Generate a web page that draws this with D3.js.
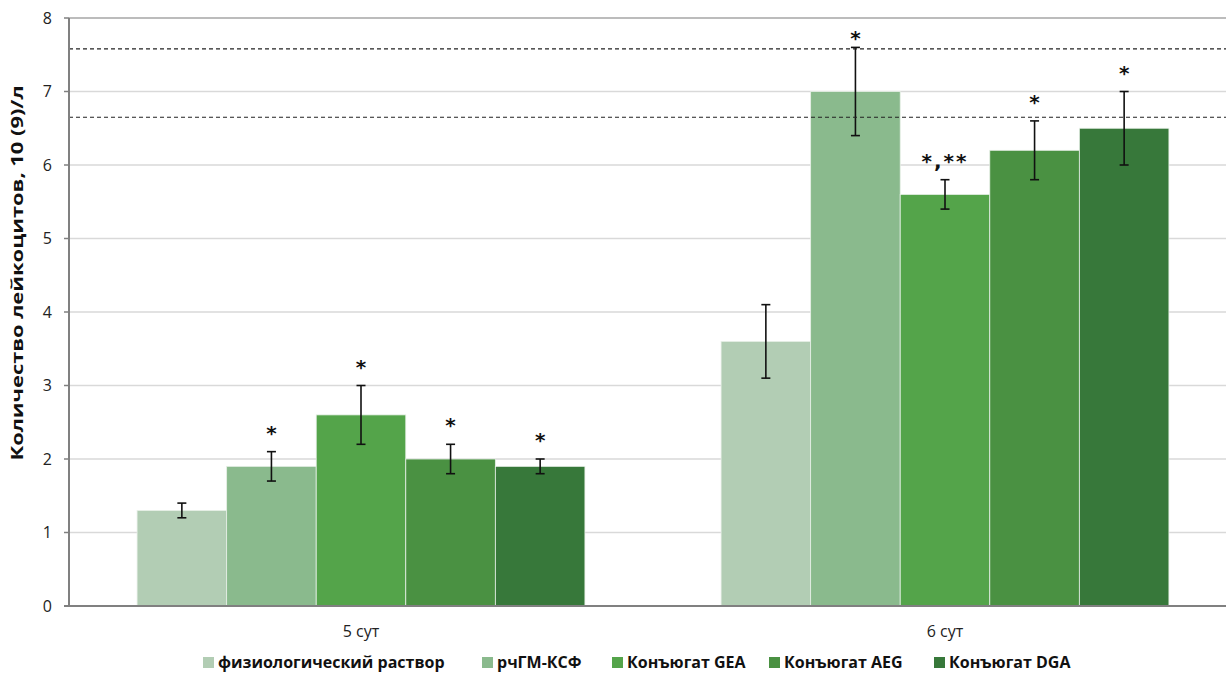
<!DOCTYPE html>
<html>
<head>
<meta charset="utf-8">
<script src="https://cdn.jsdelivr.net/npm/d3@7"></script>
<style>
  html, body { margin: 0; padding: 0; background: #fff; }
  svg { display: block; font-family: "Open Sans", "DejaVu Sans", sans-serif; }
</style>
</head>
<body>
<svg id="chart" width="1226" height="684"></svg>
<script>
// Leukocyte counts by day and treatment group
const categories = ["5 сут", "6 сут"];
const seriesNames = ["физиологический раствор", "рчГМ-КСФ", "Конъюгат GEA", "Конъюгат AEG", "Конъюгат DGA"];
const seriesColors = ["#b2cdb4", "#8aba8d", "#54a44a", "#4a9142", "#37783a"];
const means5 = [1.3, 1.9, 2.6, 2.0, 1.9];
const means6 = [3.6, 7.0, 5.6, 6.2, 6.5];
const errors5 = [0.1, 0.2, 0.4, 0.2, 0.1];
const errors6 = [0.5, 0.6, 0.2, 0.4, 0.5];
const marks5 = ["", "*", "*", "*", "*"];
const marks6 = ["", "*", "*,**", "*", "*"];
const yTicks = [0, 1, 2, 3, 4, 5, 6, 7, 8];
const referenceLines = [7.58, 6.65];

const means = [means5, means6];
const errors = [errors5, errors6];
const marks = [marks5, marks6];

const svg = d3.select("#chart");
const plotLeft = 69, plotTop = 18, plotBottom = 606, plotRightEdge = 1237;

const y = d3.scaleLinear().domain([0, 8]).range([plotBottom, plotTop]);
const x0 = d3.scaleBand().domain(categories).range([plotLeft, plotRightEdge]).paddingInner(0).paddingOuter(0);
const x1 = d3.scaleBand().domain(seriesNames).range([0, x0.bandwidth()]).paddingInner(0).paddingOuter(0.76);

// horizontal gridlines
svg.append("g").selectAll("line")
  .data(yTicks.filter(t => t > 0))
  .join("line")
  .attr("x1", plotLeft).attr("x2", 1226)
  .attr("y1", d => y(d)).attr("y2", d => y(d))
  .attr("stroke", d => d === 8 ? "#a6a6a6" : "#d9d9d9")
  .attr("stroke-width", 1.5);

// bars
const groups = svg.append("g").selectAll("g")
  .data(categories)
  .join("g")
  .attr("transform", d => `translate(${x0(d)},0)`);

groups.selectAll("rect")
  .data((c, ci) => seriesNames.map((s, si) => ({ s, si, v: means[ci][si] })))
  .join("rect")
  .attr("x", d => x1(d.s))
  .attr("width", x1.bandwidth())
  .attr("y", d => y(d.v))
  .attr("height", d => plotBottom - y(d.v))
  .attr("fill", d => seriesColors[d.si])
  .attr("stroke", "#e8f0e8")
  .attr("stroke-width", 0.8);

// dashed reference lines
svg.append("g").selectAll("line")
  .data(referenceLines)
  .join("line")
  .attr("x1", plotLeft).attr("x2", 1226)
  .attr("y1", d => y(d)).attr("y2", d => y(d))
  .attr("stroke", "#222")
  .attr("stroke-width", 1.2)
  .attr("stroke-dasharray", "4,3");

// error bars with significance marks
groups.each(function(c, ci) {
  const g = d3.select(this);
  seriesNames.forEach((s, si) => {
    const cx = x1(s) + x1.bandwidth() / 2;
    const hi = means[ci][si] + errors[ci][si];
    const lo = means[ci][si] - errors[ci][si];
    const eb = g.append("g").attr("stroke", "#111").attr("stroke-width", 1.6);
    eb.append("line").attr("x1", cx).attr("x2", cx).attr("y1", y(hi)).attr("y2", y(lo));
    eb.append("line").attr("x1", cx - 4.5).attr("x2", cx + 4.5).attr("y1", y(hi)).attr("y2", y(hi));
    eb.append("line").attr("x1", cx - 4.5).attr("x2", cx + 4.5).attr("y1", y(lo)).attr("y2", y(lo));
    const m = marks[ci][si];
    if (m) {
      g.append("text")
        .attr("x", cx)
        .attr("y", Math.max(y(hi) - 12, plotTop + 27))
        .attr("text-anchor", "middle")
        .attr("font-size", 20)
        .attr("font-weight", "bold")
        .attr("letter-spacing", m.length > 1 ? 2 : 0)
        .attr("fill", "#111")
        .attr("font-family", "DejaVu Sans, sans-serif")
        .text(m);
    }
  });
});

// axis lines
svg.append("line").attr("x1", plotLeft).attr("x2", plotLeft).attr("y1", plotTop).attr("y2", plotBottom + 1)
  .attr("stroke", "#808080").attr("stroke-width", 2);
svg.append("line").attr("x1", plotLeft - 5).attr("x2", 1226).attr("y1", plotBottom).attr("y2", plotBottom)
  .attr("stroke", "#808080").attr("stroke-width", 2);

// y ticks and labels
const yAxis = svg.append("g");
yAxis.selectAll("line")
  .data(yTicks)
  .join("line")
  .attr("x1", plotLeft - 5).attr("x2", plotLeft)
  .attr("y1", d => y(d)).attr("y2", d => y(d))
  .attr("stroke", "#808080").attr("stroke-width", 1.5);
yAxis.selectAll("text")
  .data(yTicks)
  .join("text")
  .attr("x", 52)
  .attr("y", d => y(d))
  .attr("dy", "0.36em")
  .attr("text-anchor", "end")
  .attr("font-size", 16)
  .attr("fill", "#222")
  .text(d => d);

// category labels
svg.append("g").selectAll("text")
  .data(categories)
  .join("text")
  .attr("x", d => x0(d) + x0.bandwidth() / 2)
  .attr("y", 637)
  .attr("text-anchor", "middle")
  .attr("font-size", 16)
  .attr("fill", "#222")
  .text(d => d);

// y axis title
svg.append("text")
  .attr("transform", "translate(23,273) rotate(-90)")
  .attr("text-anchor", "middle")
  .attr("font-size", 16)
  .attr("font-weight", "bold")
  .attr("fill", "#111")
  .attr("textLength", 375)
  .attr("lengthAdjust", "spacingAndGlyphs")
  .text("Количество лейкоцитов, 10 (9)/л");

// legend
const legendX = [203, 482, 612, 769, 934];
const legend = svg.append("g").selectAll("g")
  .data(seriesNames)
  .join("g")
  .attr("transform", (d, i) => `translate(${legendX[i]},668)`);
legend.append("rect")
  .attr("x", 0).attr("y", -11).attr("width", 11).attr("height", 11)
  .attr("fill", (d, i) => seriesColors[i]);
legend.append("text")
  .attr("x", 15).attr("y", 0)
  .attr("font-size", 16)
  .attr("font-weight", "bold")
  .attr("fill", "#111")
  .text(d => d);
</script>
</body>
</html>
